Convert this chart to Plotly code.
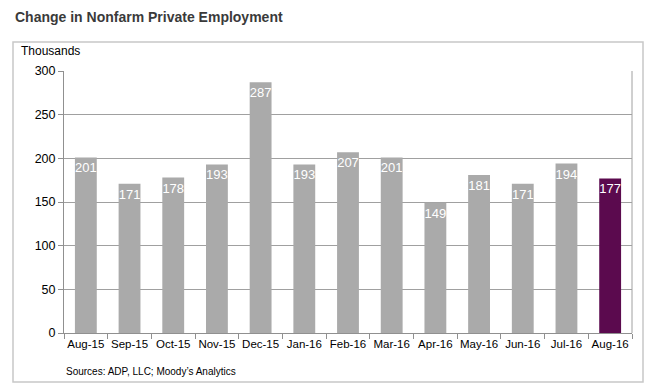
import plotly.graph_objects as go

months = ["Aug-15", "Sep-15", "Oct-15", "Nov-15", "Dec-15", "Jan-16", "Feb-16",
          "Mar-16", "Apr-16", "May-16", "Jun-16", "Jul-16", "Aug-16"]
values = [201, 171, 178, 193, 287, 193, 207, 201, 149, 181, 171, 194, 177]
colors = ["#aaaaaa"] * 12 + ["#5b0a4e"]
y_ticks = [0, 50, 100, 150, 200, 250, 300]

PW, PH = 568, 262  # plot area size in px
TOP = 63           # top margin in px

fig = go.Figure(go.Bar(
    x=months, y=values, marker=dict(color=colors, line=dict(width=0)),
    text=[str(v) for v in values], textposition="inside", insidetextanchor="end",
    textangle=0, textfont=dict(color="white", size=13, family="Arial"),
    cliponaxis=False, constraintext="none",
))

fig.update_layout(
    width=646, height=383,
    margin=dict(l=56, r=22, t=TOP, b=58, autoexpand=False),
    paper_bgcolor="white", plot_bgcolor="white",
    bargap=0.5, showlegend=False,
    font=dict(family="Arial", color="#000000", size=12),
    shapes=[dict(type="rect", xref="paper", yref="paper",
                 x0=-51 / PW, x1=1 + 11 / PW, y0=-49 / PH, y1=1 + 29 / PH,
                 line=dict(color="#c8c8c8", width=1.5), layer="below")],
    annotations=[
        dict(text="<b>Change in Nonfarm Private Employment</b>", xref="paper", yref="paper",
             x=-50 / PW, y=1 + TOP / PH, xanchor="left", yanchor="top", showarrow=False,
             borderpad=0, font=dict(size=14, color="#3a3a3a", family="Arial")),
        dict(text="Thousands", xref="paper", yref="paper",
             x=-45 / PW, y=1 + 20 / PH, xanchor="left", yanchor="middle", showarrow=False,
             font=dict(size=12, color="#000000", family="Arial")),
        dict(text="Sources: ADP, LLC; Moody\u2019s Analytics", xref="paper", yref="paper",
             x=0, y=-38 / PH, xanchor="left", yanchor="middle", showarrow=False,
             font=dict(size=10, color="#000000", family="Arial")),
    ],
)
fig.update_xaxes(type="category", tickson="boundaries", ticks="outside", ticklen=5,
                 tickcolor="#909090", showline=True, linecolor="#909090", linewidth=1,
                 mirror=False, showgrid=False, tickangle=0, automargin=False,
                 tickfont=dict(size=11.5, family="Arial"))
fig.update_yaxes(range=[0, 300], tickvals=y_ticks, ticks="outside", ticklen=5,
                 tickcolor="#909090", showline=True, linecolor="#909090", linewidth=1,
                 showgrid=True, gridcolor="#a0a0a0", gridwidth=1, zeroline=False,
                 automargin=False, tickfont=dict(size=12.5, family="Arial"))
# right border of plot area
fig.add_shape(type="line", xref="paper", yref="paper", x0=1, x1=1, y0=0, y1=1,
              line=dict(color="#a0a0a0", width=1))

fig.write_html("out.html")
